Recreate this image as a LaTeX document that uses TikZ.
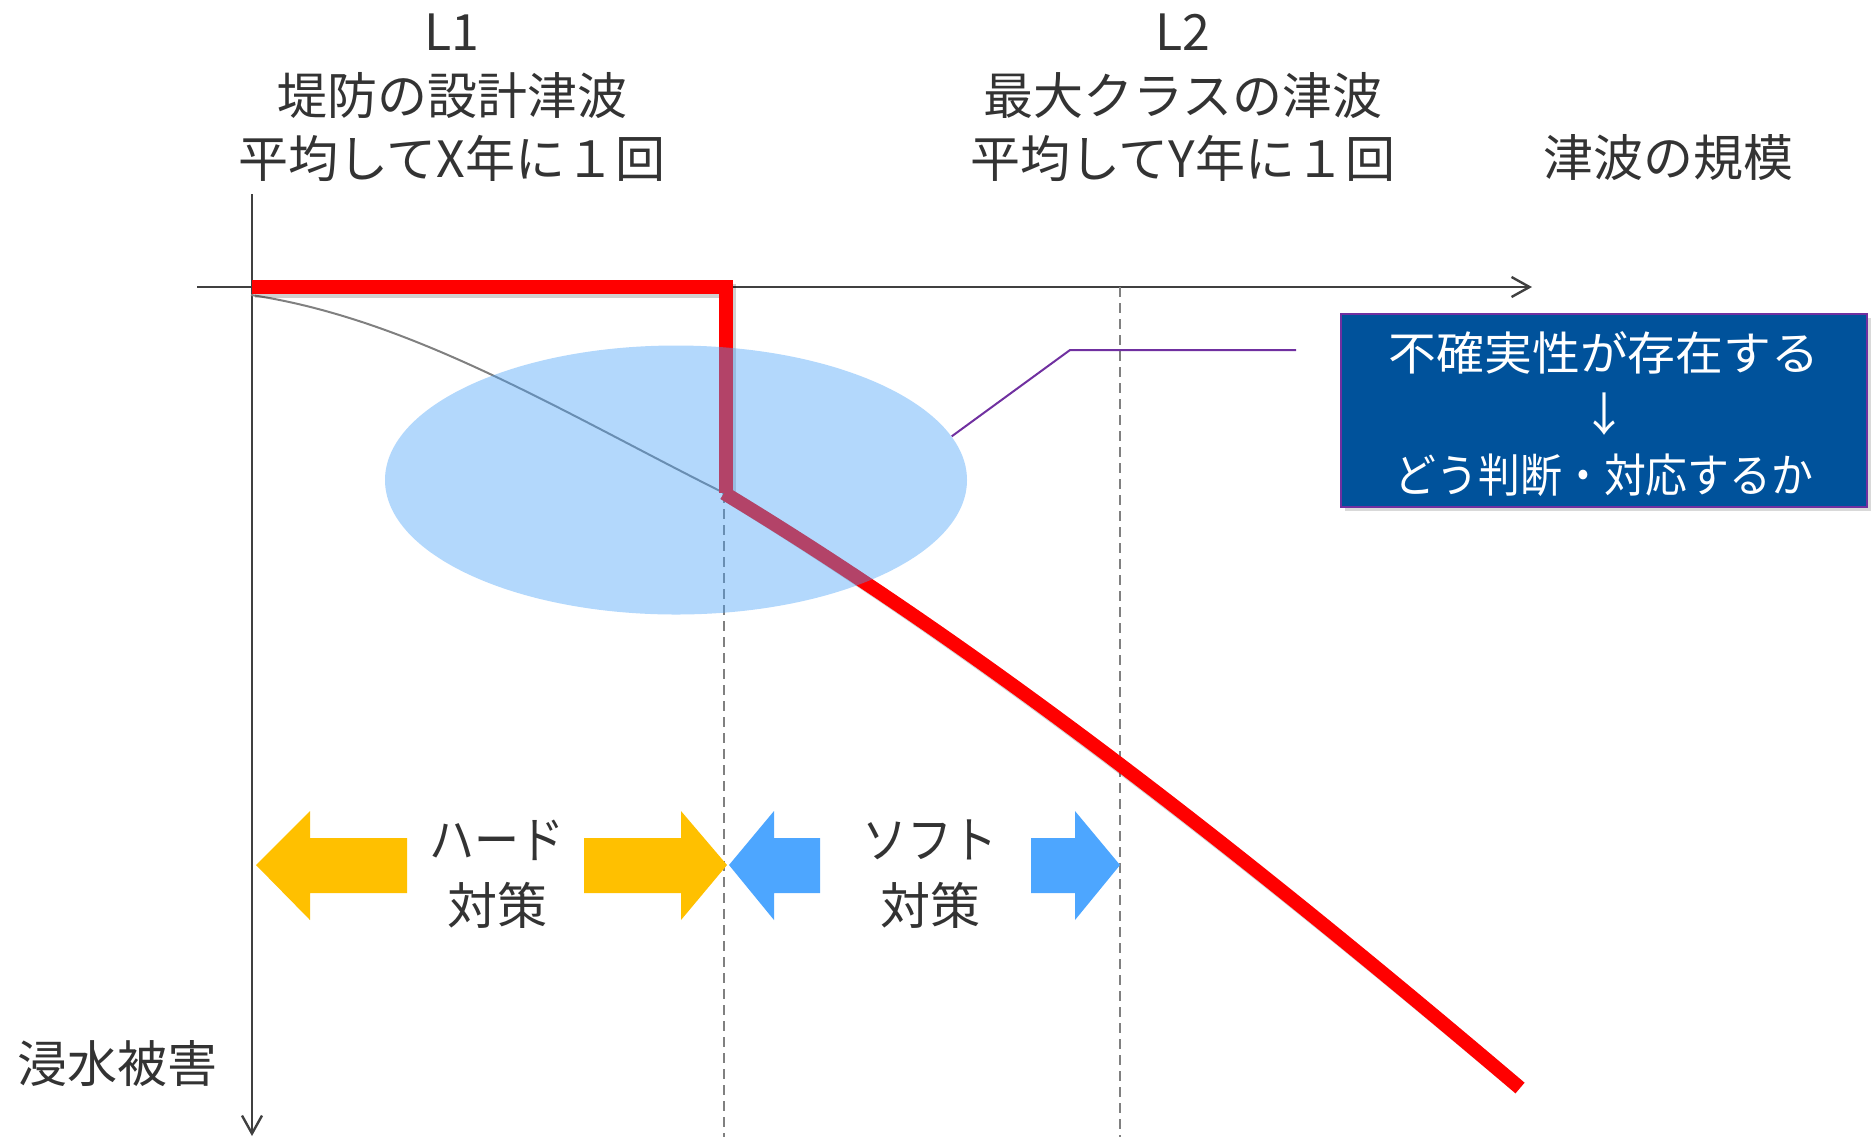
\documentclass[tikz,border=0pt]{standalone}
\usepackage{graphicx}
\usepackage{fontspec}
\setmainfont{Noto Sans CJK JP}
\usetikzlibrary{arrows.meta,shapes.geometric,shadows}
\definecolor{axisgray}{HTML}{404040}
\definecolor{txtgray}{HTML}{333333}
\definecolor{dashgray}{HTML}{808080}
\definecolor{redline}{HTML}{FF0000}
\definecolor{uncblue}{RGB}{74,162,248}
\definecolor{boxblue}{RGB}{0,82,155}
\definecolor{callpurple}{HTML}{7030A0}
\definecolor{hardyellow}{HTML}{FFC000}
\definecolor{softblue}{RGB}{77,166,255}
\begin{document}
\begin{tikzpicture}[x=0.5pt,y=-0.5pt,
  axisline/.style={draw=axisgray,line width=1.2pt,-{Straight Barb[length=9pt,width=10pt]}},
  dashline/.style={draw=dashgray,line width=1pt,dash pattern=on 5pt off 3pt},
  redpath/.style={draw=redline,line width=7pt},
  redshadow/.style={draw=black,opacity=0.18,line width=7pt},
  graycurve/.style={draw=dashgray,line width=1pt},
  callout/.style={draw=callpurple,line width=1pt},
  lbl/.style={text=txtgray,font=\fontsize{25pt}{30pt}\selectfont,inner sep=0pt,anchor=center},
  boxtxt/.style={text=white,font=\fontsize{23pt}{28pt}\selectfont,inner sep=0pt,anchor=center},
  hardarrow/.style={fill=hardyellow,draw=none},
  softarrow/.style={fill=softblue,draw=none}
]
\useasboundingbox (0,0) rectangle (1874,1137);

% axes
\coordinate (yTop) at (252,194);
\coordinate (yBot) at (252,1136);
\coordinate (xL) at (197,287);
\coordinate (xR) at (1532,287);
\draw[axisline] (yTop) -- (yBot);
\draw[axisline] (xL) -- (xR);

% dashed guide lines
\coordinate (d1T) at (724,493);
\coordinate (d1B) at (724,1137);
\coordinate (d2T) at (1120,287);
\coordinate (d2B) at (1120,1137);
\draw[dashline] (d1T) -- (d1B);
\draw[dashline] (d2T) -- (d2B);

% damage curve (gray part)
\coordinate (c0) at (251,295);
\coordinate (cK) at (724,493);
\coordinate (cE) at (1520,1088);
\draw[graycurve] (c0) .. controls (412,319) and (564,413) .. (cK);

% red line shadow
\begin{scope}[shift={(3,4)}]
\draw[redshadow,line join=miter] (252,287) -- (726,287) -- (726,493);
\draw[redshadow] (cK) .. controls (989,653) and (1255,863) .. (cE);
\end{scope}
% red line
\coordinate (r0) at (252,287);
\coordinate (r1) at (726,287);
\coordinate (r2) at (726,493);
\draw[redpath,line join=miter] (r0) -- (r1) -- (r2);
\draw[redpath] (cK) .. controls (989,653) and (1255,863) .. (cE);

% uncertainty ellipse
\node[ellipse,fill=uncblue,fill opacity=0.42,draw=none,inner sep=0pt,
      minimum width=291pt,minimum height=134.5pt] (unc) at (676,480) {};

% callout
\coordinate (cBend) at (1070,350);
\coordinate (cEnd) at (1296,350);
\draw[callout] (unc.9) -- (cBend) -- (cEnd);

% box
\node[rectangle,fill=boxblue,draw=callpurple,line width=1pt,
      minimum width=263pt,minimum height=96.5pt,inner sep=0pt,
      drop shadow={shadow xshift=2pt,shadow yshift=-2pt,opacity=0.3}] (box) at (1604,410.5) {};
\node[boxtxt] (bt1) at (1604,353) {\scalebox{1.04}[1]{不確実性が存在する}};
\node[boxtxt] (bt2) at (1604,414) {↓};
\node[boxtxt] (bt3) at (1604,475) {\scalebox{0.91}[1]{どう判断・対応するか}};

% hard/soft arrows
\fill[hardarrow] (256,865) -- (310,811) -- (310,838) -- (407,838) -- (407,893) -- (310,893) -- (310,920) -- cycle;
\fill[hardarrow] (727,865) -- (681,811) -- (681,838) -- (584,838) -- (584,893) -- (681,893) -- (681,920) -- cycle;
\fill[softarrow] (729,865) -- (774,811) -- (774,838) -- (820,838) -- (820,893) -- (774,893) -- (774,920) -- cycle;
\fill[softarrow] (1120,865) -- (1075,811) -- (1075,838) -- (1031,838) -- (1031,893) -- (1075,893) -- (1075,920) -- cycle;

\node[lbl] (hard1) at (497,840) {\scalebox{0.9}[1]{ハード}};
\node[lbl] (hard2) at (497,905) {対策};
\node[lbl] (soft1) at (930,840) {\scalebox{0.9}[1]{ソフト}};
\node[lbl] (soft2) at (930,905) {対策};

% top labels
\node[lbl] (l1a) at (452,32) {L1};
\node[lbl] (l1b) at (452,96) {堤防の設計津波};
\node[lbl] (l1c) at (452,158) {平均してX年に１回};
\node[lbl] (l2a) at (1183,32) {L2};
\node[lbl] (l2b) at (1183,96) {最大クラスの津波};
\node[lbl] (l2c) at (1183,158) {平均してY年に１回};
\node[lbl] (xlab) at (1668,158) {津波の規模};
\node[lbl] (ylab) at (118,1064) {浸水被害};
\end{tikzpicture}
\end{document}
